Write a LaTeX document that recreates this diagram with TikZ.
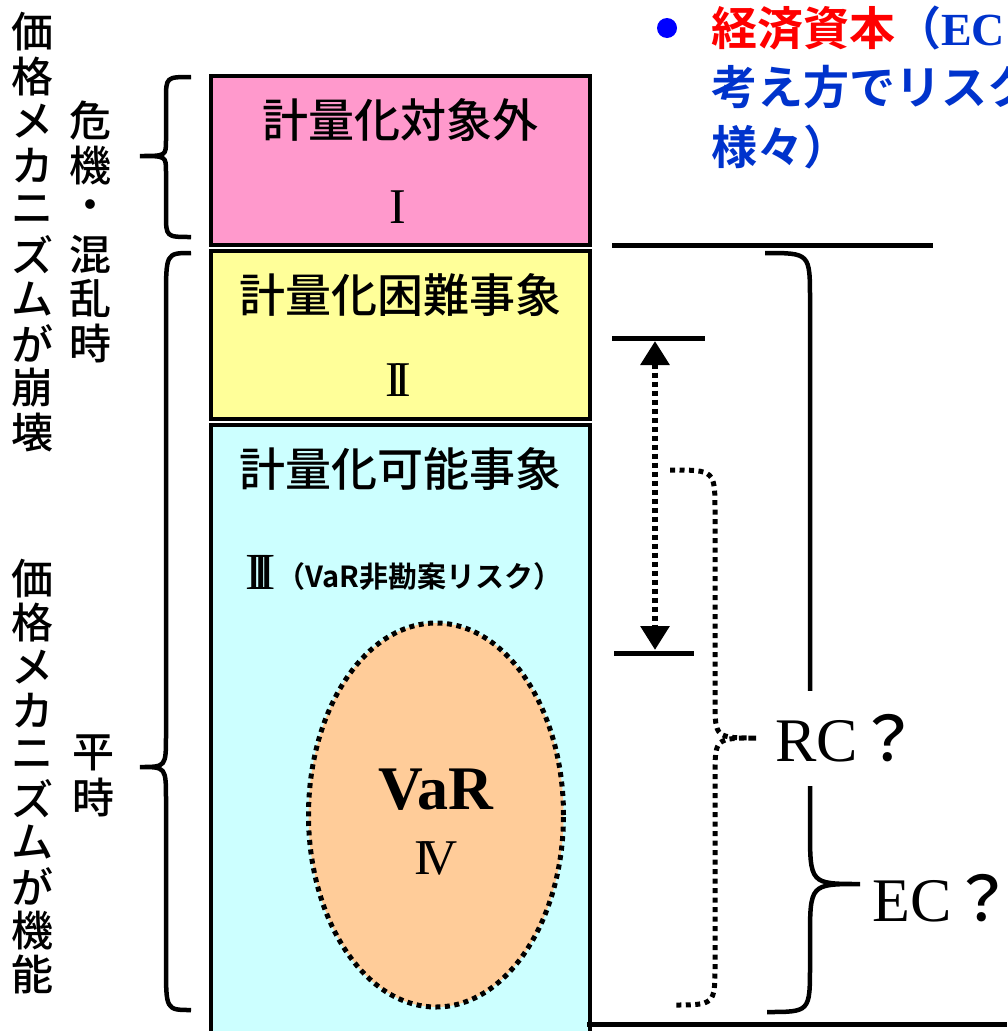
\documentclass[tikz,border=0pt]{standalone}
\usepackage{fontspec}
\setmainfont{Liberation Serif}
\newfontfamily\jp{Noto Sans CJK JP Medium}[BoldFont={Noto Sans CJK JP Bold}]
\usetikzlibrary{arrows.meta,shapes.geometric}

\definecolor{boxpink}{HTML}{FF99CC}
\definecolor{boxyellow}{HTML}{FFFF99}
\definecolor{boxcyan}{HTML}{CCFFFF}
\definecolor{varorange}{HTML}{FFCC99}
\definecolor{textblue}{HTML}{0033CC}
\definecolor{bulletblue}{HTML}{0000FF}

\tikzstyle{levelbox} = [draw,line width=4pt,anchor=north west,minimum width=379pt,inner sep=0pt]
\tikzstyle{boxtitle} = [font=\jp\fontsize{46}{46}\selectfont,inner sep=0pt]
\tikzstyle{numeral} = [font=\rmfamily\fontsize{50}{50}\selectfont,inner sep=0pt]
\tikzstyle{vchar} = [font=\jp\fontsize{42}{42}\selectfont,inner sep=0pt]
\tikzstyle{headline} = [font=\jp\bfseries\fontsize{46}{46}\selectfont,text=textblue,anchor=west,inner sep=0pt]
\tikzstyle{capital} = [font=\rmfamily\fontsize{62}{62}\selectfont,anchor=west,inner sep=0pt]
\tikzstyle{bracedecorate} = [draw,line width=4.5pt]
\tikzstyle{dotdecorate} = [draw,line width=5pt,dash pattern=on 5pt off 4.5pt]

\begin{document}
\begin{tikzpicture}[x=1pt,y=-1pt,
      limitline/.style={draw,line width=5pt},
      arrowdecorate/.style={{Triangle[width=28pt,length=24pt]}-{Triangle[width=28pt,length=24pt]},line width=6pt,dash pattern=on 5pt off 4pt}]
      \useasboundingbox (0,0) rectangle (1007,1031);
      \clip (0,0) rectangle (1007,1031);

      %% boxes
      \foreach \boxname/\ytop/\height/\colour/\title in {
        out/74/169/boxpink/計量化対象外, hard/249/168/boxyellow/計量化困難事象,
        able/423/640/boxcyan/計量化可能事象}
      {
        \node[levelbox,fill=\colour,minimum height=\height] (\boxname) at (209,\ytop) {};
        \node[boxtitle] (\boxname-title) at ([yshift=-46pt]\boxname.north) {\title};
      }
      \node[numeral] (out-num) at (398,207) {I};
      \node[numeral] (hard-num) at (398,380) {I\kern-.16em I};
      \node[numeral,font=\rmfamily\fontsize{52}{52}\selectfont] (able-num) at (261,572) {I\kern-.21em I\kern-.21em I};
      \node[font=\jp\bfseries\fontsize{29}{29}\selectfont,anchor=west,inner sep=0pt] (able-note) at (276,577) {（VaR非勘案リスク）};

      %% VaR
      \node[ellipse,dotdecorate,fill=varorange,minimum width=255pt,minimum height=384pt,inner sep=0pt] (var) at (436,815) {};
      \node[font=\rmfamily\bfseries\fontsize{62}{62}\selectfont,inner sep=0pt] (var-label) at (436,790) {VaR};
      \node[numeral] (var-num) at (436,858) {I\kern-.18em V};

      %% vertical texts
      \foreach \ch [count=\i] in {価,格,メ,カ,ニ,ズ,ム,が,崩,壊}
        \node[vchar] (collapse\i) at (33,{32+44.5*(\i-1)}) {\ch};
      \foreach \ch [count=\i] in {危,機,・,混,乱,時}
        \node[vchar] (crisis\i) at (90,{121+44.4*(\i-1)}) {\ch};
      \foreach \ch [count=\i] in {価,格,メ,カ,ニ,ズ,ム,が,機,能}
        \node[vchar] (working\i) at (33,{579+43.9*(\i-1)}) {\ch};
      \foreach \ch [count=\i] in {平,時}
        \node[vchar] (normal\i) at (93,{753+44.5*(\i-1)}) {\ch};

      %% left braces
      \draw[bracedecorate] (191,77) .. controls (166,77) .. (166,100) -- (166,140)
        .. controls (166,156) .. (140,156) .. controls (166,156) .. (166,172)
        -- (166,214) .. controls (166,237) .. (191,237);
      \draw[bracedecorate] (191,253) .. controls (166,253) .. (166,300) -- (166,735)
        .. controls (166,767) .. (140,767) .. controls (166,767) .. (166,800)
        -- (166,965) .. controls (166,1010) .. (191,1010);

      %% limit lines
      \foreach \name/\xa/\xb/\y in {top/612/933/245, upper/612/705/338, lower/614/694/653, bottom/587/1007/1024}
      {
        \coordinate (\name-l) at (\xa,\y);
        \coordinate (\name-r) at (\xb,\y);
        \draw[limitline] (\name-l) -- (\name-r);
      }
      \coordinate (arrowtop) at (655,341);
      \coordinate (arrowbottom) at (655,650);
      \draw[arrowdecorate] (arrowtop) -- (arrowbottom);

      %% right braces
      \draw[bracedecorate] (765,253) .. controls (810,253) .. (810,300) -- (810,828)
        .. controls (810,884) .. (860,884) .. controls (810,884) .. (810,940)
        -- (810,965) .. controls (810,1012) .. (767,1012);
      \draw[dotdecorate] (670,470) .. controls (715,470) .. (715,512) -- (715,700)
        .. controls (715,738) .. (757,738) .. controls (715,738) .. (715,776)
        -- (715,965) .. controls (715,1005) .. (672,1005);
      \node[capital,fill=white,minimum height=95pt] (rc) at (775,738) {RC{\jp ？}};
      \node[capital] (ec) at (872,898) {EC{\jp ？}};

      %% heading
      \node[circle,fill=bulletblue,minimum size=20pt,inner sep=0pt] (bullet) at (667,28) {};
      \node[headline] (head1) at (711,28) {{\color{red}経済資本}（{\rmfamily EC}：};
      \node[headline] (head2) at (711,87) {考え方でリスク};
      \node[headline] (head3) at (711,147) {様々）};
    \end{tikzpicture}
\end{document}
